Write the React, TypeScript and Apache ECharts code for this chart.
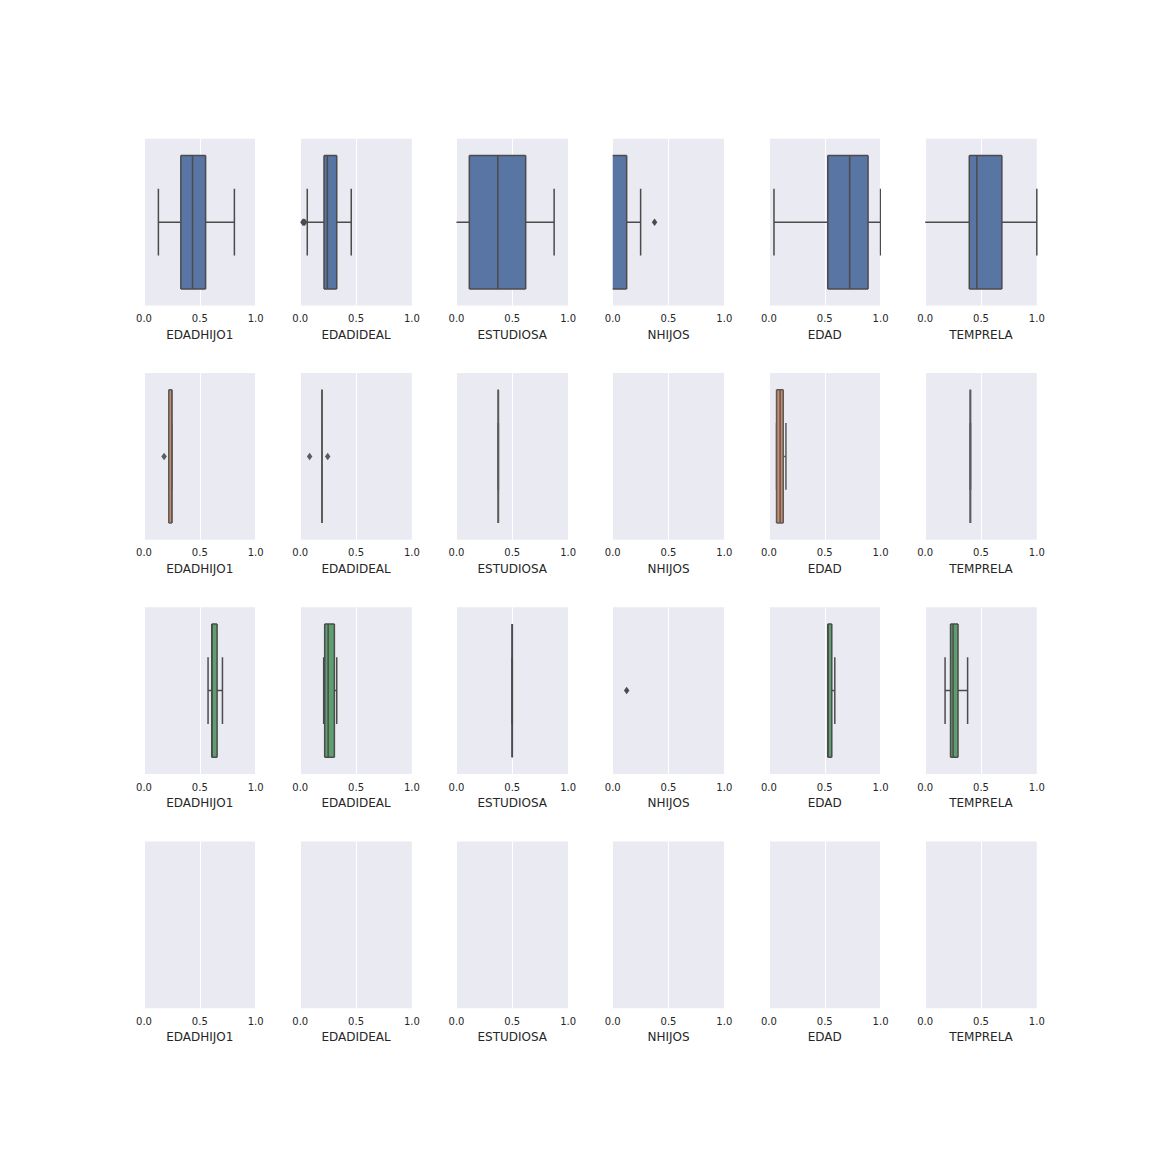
import React, { useEffect, useRef } from "react";
import * as echarts from "echarts";

const variables = ["EDADHIJO1", "EDADIDEAL", "ESTUDIOSA", "NHIJOS", "EDAD", "TEMPRELA"];
const xTicks = [0, 0.5, 1];

// box stats per variable: [whiskerLow, q1, median, q3, whiskerHigh]; null = no data
const group1Stats = [
  [0.129, 0.33, 0.435, 0.552, 0.81],
  [0.063, 0.213, 0.243, 0.327, 0.457],
  [0, 0.115, 0.37, 0.62, 0.875],
  [0, 0, 0, 0.125, 0.25],
  [0.045, 0.527, 0.723, 0.888, 1.0],
  [0, 0.395, 0.463, 0.687, 1.0],
];
const group1Outliers = [[], [0.024, 0.032, 0.04], [], [0.375], [], []];

const group2Stats = [
  [0.222, 0.222, 0.25, 0.25, 0.25],
  [0.195, 0.195, 0.195, 0.195, 0.195],
  [0.375, 0.375, 0.375, 0.375, 0.375],
  null,
  [0.068, 0.068, 0.1, 0.128, 0.152],
  [0.405, 0.405, 0.405, 0.405, 0.405],
];
const group2Outliers = [[0.18], [0.084, 0.246], [], [], [], []];

const group3Stats = [
  [0.574, 0.607, 0.61, 0.655, 0.703],
  [0.21, 0.219, 0.25, 0.306, 0.327],
  [0.5, 0.5, 0.5, 0.5, 0.5],
  [0, 0, 0, 0, 0],
  [0.527, 0.527, 0.53, 0.563, 0.59],
  [0.178, 0.227, 0.25, 0.294, 0.38],
];
const group3Outliers = [[], [], [], [0.125], [], []];

const group4Stats = [null, null, null, null, null, null];
const group4Outliers = [[], [], [], [], [], []];

const rowsStats = [group1Stats, group2Stats, group3Stats, group4Stats];
const rowsOutliers = [group1Outliers, group2Outliers, group3Outliers, group4Outliers];
const boxColors = ["#5875A4", "#CC8963", "#5F9E6E", "#5875A4"];
const lineColors = ["#4B4B4B", "#5B5B5B", "#4C4C4C", "#4B4B4B"];

export default function App() {
  const ref = useRef<HTMLDivElement>(null);
  useEffect(() => {
    document.body.style.margin = "0";
    const chart = echarts.init(ref.current!, null, { renderer: "svg" });
    const grids: any[] = [];
    const xAxes: any[] = [];
    const yAxes: any[] = [];
    const series: any[] = [];
    const left0 = 144, stepX = 156.24, w = 111.6;
    const top0 = 138.8, stepY = 234.2, h = 166.8;
    const xMin = xTicks[0];
    for (let r = 0; r < 4; r++) {
      for (let c = 0; c < 6; c++) {
        const idx = r * 6 + c;
        grids.push({
          left: left0 + c * stepX,
          top: top0 + r * stepY,
          width: w,
          height: h,
          show: true,
          backgroundColor: "#EAEAF2",
          borderWidth: 0,
        });
        xAxes.push({
          type: "value",
          gridIndex: idx,
          min: xTicks[0],
          max: xTicks[xTicks.length - 1],
          interval: xTicks[1] - xTicks[0],
          name: variables[c],
          nameLocation: "middle",
          nameGap: 23,
          nameTextStyle: { fontSize: 12, color: "#262626", fontFamily: "DejaVu Sans" },
          axisLine: { show: false },
          axisTick: { show: false },
          axisLabel: {
            show: true,
            margin: 8,
            fontSize: 10,
            color: "#262626",
            fontFamily: "DejaVu Sans",
            showMinLabel: true,
            showMaxLabel: true,
            formatter: (v: number) => v.toFixed(1),
          },
          splitLine: { show: true, lineStyle: { color: "#FFFFFF", width: 1 } },
        });
        yAxes.push({ type: "value", gridIndex: idx, min: -0.5, max: 0.5, show: false });
        const st = rowsStats[r][c];
        const gray = lineColors[r];
        const fill = boxColors[r];
        if (st) {
          series.push({
            type: "custom",
            xAxisIndex: idx,
            yAxisIndex: idx,
            clip: true,
            encode: { x: [0, 1, 2, 3, 4] },
            data: [st],
            renderItem: (params: any, api: any) => {
              const lo = api.value(0), q1 = api.value(1), med = api.value(2), q3 = api.value(3), hi = api.value(4);
              const p = (x: number, y: number) => api.coord([x, y]);
              const ls = { stroke: gray, lineWidth: 1.5, fill: null };
              const line = (x1: number, y1: number, x2: number, y2: number) => {
                const a = p(x1, y1), b = p(x2, y2);
                return { type: "line", shape: { x1: a[0], y1: a[1], x2: b[0], y2: b[1] }, style: ls };
              };
              // vertical marks lying on the axis edge are clipped away (as in the source)
              const vline = (x: number, y1: number, y2: number) => (x <= xMin ? null : line(x, y1, x, y2));
              const tl = p(q1, 0.4), br = p(q3, -0.4);
              const children: any[] = [];
              if (q1 > lo) children.push(line(lo, 0, q1, 0));
              if (hi > q3) children.push(line(q3, 0, hi, 0));
              children.push(vline(lo, -0.2, 0.2));
              children.push(vline(hi, -0.2, 0.2));
              if (q3 > q1) {
                children.push({
                  type: "rect",
                  shape: { x: tl[0], y: tl[1], width: br[0] - tl[0], height: br[1] - tl[1] },
                  style: { fill },
                });
                children.push(line(q1, 0.4, q3, 0.4));
                children.push(line(q1, -0.4, q3, -0.4));
              }
              children.push(vline(q1, -0.4, 0.4));
              children.push(vline(q3, -0.4, 0.4));
              children.push(vline(med, -0.4, 0.4));
              return { type: "group", children: children.filter(Boolean) };
            },
          });
        }
        const out = rowsOutliers[r][c];
        if (out.length) {
          series.push({
            type: "scatter",
            xAxisIndex: idx,
            yAxisIndex: idx,
            clip: true,
            symbol: "diamond",
            symbolSize: [5.5, 7.5],
            itemStyle: { color: gray, opacity: 1 },
            data: out.map((v) => [v, 0]),
          });
        }
      }
    }
    chart.setOption({
      animation: false,
      backgroundColor: "#FFFFFF",
      grid: grids,
      xAxis: xAxes,
      yAxis: yAxes,
      series,
    });
    return () => chart.dispose();
  }, []);
  return <div ref={ref} style={{ width: 1152, height: 1152 }} />;
}
